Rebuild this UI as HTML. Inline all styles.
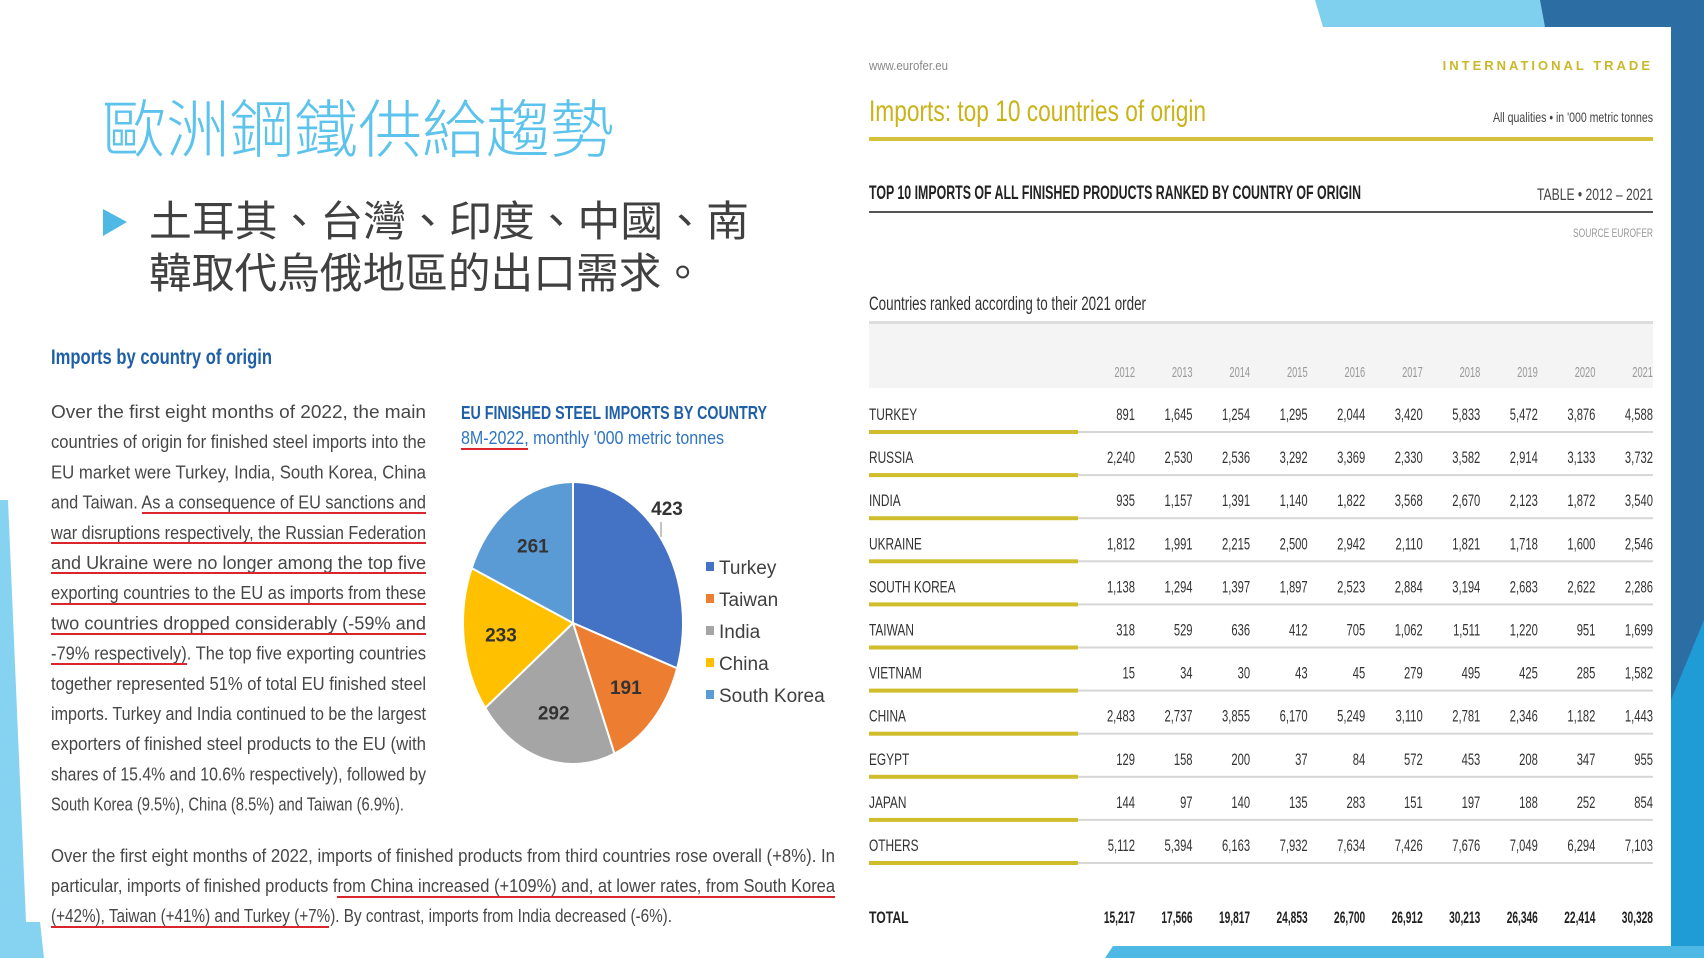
<!DOCTYPE html>
<html><head><meta charset="utf-8">
<style>
html,body{margin:0;padding:0;background:#fff;}
svg{display:block;font-family:"Liberation Sans","Noto Sans CJK TC",sans-serif;}
</style></head>
<body>
<svg id="slide" width="1704" height="958" viewBox="0 0 1704 958" xmlns="http://www.w3.org/2000/svg">
  <!-- decorations -->
  <polygon points="1315,0 1545,0 1545,27 1323,27" fill="#7fd0ef"/>
  <polygon points="1540,0 1704,0 1704,958 1671,958 1671,27 1545,27" fill="#2c6ea3"/>
  <polygon points="1671,700 1704,620 1704,958 1671,958" fill="#1f9bd6"/>
  <polygon points="1113,946 1671,946 1704,946 1704,958 1105,958" fill="#4fb9e6"/>
  <polygon points="0,500 8,500 26,922 40,922 44,958 0,958" fill="#85d3f1"/>

  <!-- left title -->
  <text x="102" y="152" font-size="63" fill="#5cc3ec" font-family="'Noto Sans CJK TC',sans-serif" font-weight="300" textLength="512" lengthAdjust="spacingAndGlyphs">歐洲鋼鐵供給趨勢</text>
  <polygon points="103,209 127,222 103,236" fill="#4fb9e6"/>
  <text x="149" y="236" font-size="42" fill="#404040" font-family="'Noto Sans CJK TC',sans-serif" textLength="600" lengthAdjust="spacingAndGlyphs">土耳其、台灣、印度、中國、南</text>
  <text x="149" y="288" font-size="42" fill="#404040" font-family="'Noto Sans CJK TC',sans-serif" textLength="555" lengthAdjust="spacingAndGlyphs">韓取代烏俄地區的出口需求。</text>

  <text x="51" y="364" font-size="21" font-weight="bold" fill="#1f5fa8" textLength="221" lengthAdjust="spacingAndGlyphs">Imports by country of origin</text>

  <g id="para1" fill="#474747" font-size="18"></g>
  <g id="para2" fill="#474747" font-size="18"></g>
  <g id="underlines" stroke="#d9262b" stroke-width="2"></g>

  <!-- pie -->
  <text x="461" y="419" font-size="18" font-weight="bold" fill="#1f5fa8" textLength="306" lengthAdjust="spacingAndGlyphs">EU FINISHED STEEL IMPORTS BY COUNTRY</text>
  <text x="461" y="444" font-size="18" fill="#2f74c0" textLength="263" lengthAdjust="spacingAndGlyphs">8M-2022, monthly '000 metric tonnes</text>
  <line x1="461" y1="449" x2="528" y2="449" stroke="#d9262b" stroke-width="2"/>
  <g id="pie"></g>
  <g id="legend"></g>

  <!-- table header -->
  <text x="869" y="70" font-size="13" fill="#888" textLength="79" lengthAdjust="spacingAndGlyphs">www.eurofer.eu</text>
  <text x="1653" y="70" text-anchor="end" font-size="13" font-weight="bold" fill="#cbb82a" letter-spacing="3">INTERNATIONAL TRADE</text>
  <text x="869" y="121" font-size="30" fill="#c9b318" textLength="337" lengthAdjust="spacingAndGlyphs">Imports: top 10 countries of origin</text>
  <text x="1653" y="122" text-anchor="end" font-size="14" fill="#444" textLength="160" lengthAdjust="spacingAndGlyphs">All qualities • in '000 metric tonnes</text>
  <rect x="869" y="137" width="784" height="4" fill="#d4c23a"/>
  <text x="869" y="199" font-size="19" font-weight="bold" fill="#222" textLength="492" lengthAdjust="spacingAndGlyphs">TOP 10 IMPORTS OF ALL FINISHED PRODUCTS RANKED BY COUNTRY OF ORIGIN</text>
  <text x="1653" y="200" text-anchor="end" font-size="17" fill="#444" textLength="116" lengthAdjust="spacingAndGlyphs">TABLE • 2012 – 2021</text>
  <rect x="869" y="211" width="784" height="2" fill="#555"/>
  <text x="1653" y="237" text-anchor="end" font-size="12" fill="#999" textLength="80" lengthAdjust="spacingAndGlyphs">SOURCE EUROFER</text>
  <text x="869" y="310" font-size="19" fill="#333" textLength="277" lengthAdjust="spacingAndGlyphs">Countries ranked according to their 2021 order</text>
  <rect x="869" y="322" width="784" height="66" fill="#f4f4f4"/>
  <rect x="869" y="321" width="784" height="3" fill="#ddd"/>
  <g id="table"></g>
</svg>
<script>
const NS = "http://www.w3.org/2000/svg";
// ---- pie data ----
const pieCountries = ["Turkey","Taiwan","India","China","South Korea"];
const pieValues = [423,191,292,233,261];
const pieColors = ["#4472c4","#ed7d31","#a5a5a5","#ffc000","#5b9bd5"];
// ---- table data ----
const tableYears = ["2012","2013","2014","2015","2016","2017","2018","2019","2020","2021"];
const tableCountries = ["TURKEY","RUSSIA","INDIA","UKRAINE","SOUTH KOREA","TAIWAN","VIETNAM","CHINA","EGYPT","JAPAN","OTHERS"];
const rowTurkey = [891,1645,1254,1295,2044,3420,5833,5472,3876,4588];
const rowRussia = [2240,2530,2536,3292,3369,2330,3582,2914,3133,3732];
const rowIndia = [935,1157,1391,1140,1822,3568,2670,2123,1872,3540];
const rowUkraine = [1812,1991,2215,2500,2942,2110,1821,1718,1600,2546];
const rowSouthKorea = [1138,1294,1397,1897,2523,2884,3194,2683,2622,2286];
const rowTaiwan = [318,529,636,412,705,1062,1511,1220,951,1699];
const rowVietnam = [15,34,30,43,45,279,495,425,285,1582];
const rowChina = [2483,2737,3855,6170,5249,3110,2781,2346,1182,1443];
const rowEgypt = [129,158,200,37,84,572,453,208,347,955];
const rowJapan = [144,97,140,135,283,151,197,188,252,854];
const rowOthers = [5112,5394,6163,7932,7634,7426,7676,7049,6294,7103];
const rowTotal = [15217,17566,19817,24853,26700,26912,30213,26346,22414,30328];
const tableRows = [rowTurkey,rowRussia,rowIndia,rowUkraine,rowSouthKorea,rowTaiwan,rowVietnam,rowChina,rowEgypt,rowJapan,rowOthers];

function mk(tag, attrs, parent){const e=document.createElementNS(NS,tag);for(const k in attrs)e.setAttribute(k,attrs[k]);parent.appendChild(e);return e;}
function fmt(v){return v.toLocaleString("en-US");}

// ---- paragraphs ----
const p1Lines = [
 ["Over the first eight months of 2022, the main",1],
 ["countries of origin for finished steel imports into the",1],
 ["EU market were Turkey, India, South Korea, China",1],
 ["and Taiwan. As a consequence of EU sanctions and",1],
 ["war disruptions respectively, the Russian Federation",1],
 ["and Ukraine were no longer among the top five",1],
 ["exporting countries to the EU as imports from these",1],
 ["two countries dropped considerably (-59% and",1],
 ["-79% respectively). The top five exporting countries",1],
 ["together represented 51% of total EU finished steel",1],
 ["imports. Turkey and India continued to be the largest",1],
 ["exporters of finished steel products to the EU (with",1],
 ["shares of 15.4% and 10.6% respectively), followed by",1],
 ["South Korea (9.5%), China (8.5%) and Taiwan (6.9%).",0]
];
const p1 = document.getElementById("para1");
p1Lines.forEach((l,i)=>{
  const t = mk("text",{x:51,y:418+i*30.2,textLength:l[1]?375:353,lengthAdjust:"spacingAndGlyphs"},p1);
  
  
  t.textContent=l[0];
});
const p2Lines = [
 ["Over the first eight months of 2022, imports of finished products from third countries rose overall (+8%). In",784],
 ["particular, imports of finished products from China increased (+109%) and, at lower rates, from South Korea",784],
 ["(+42%), Taiwan (+41%) and Turkey (+7%). By contrast, imports from India decreased (-6%).",621]
];
const p2 = document.getElementById("para2");
p2Lines.forEach((l,i)=>{
  const t = mk("text",{x:51,y:862+i*30,textLength:l[1],lengthAdjust:"spacingAndGlyphs"},p2);
  
  
  t.textContent=l[0];
});
const ul = document.getElementById("underlines");
[[142,426,513],[51,426,543],[51,426,573],[51,426,604],[51,426,634],[51,187,664],[337,835,897],[51,329,927]].forEach(u=>{
  const e = mk("line",{x1:u[0],x2:u[1],y1:u[2],y2:u[2]},ul);
  
  
});

// ---- pie ----
const cx=573, cy=623, rx=110, ry=141;
const pie=document.getElementById("pie");
const total=pieValues.reduce((a,b)=>a+b,0);
let ang=-Math.PI/2;
pieValues.forEach((v,i)=>{
  const a0=ang, a1=ang+v/total*2*Math.PI; ang=a1;
  const x0=cx+rx*Math.cos(a0), y0=cy+ry*Math.sin(a0), x1=cx+rx*Math.cos(a1), y1=cy+ry*Math.sin(a1);
  const large=(a1-a0)>Math.PI?1:0;
  const p=mk("path",{d:`M${cx},${cy} L${x0},${y0} A${rx},${ry} 0 ${large} 1 ${x1},${y1} Z`,fill:pieColors[i],stroke:"#fff","stroke-width":2},pie);
  
  
  const am=(a0+a1)/2;
  let lx=cx+rx*0.66*Math.cos(am), ly=cy+ry*0.66*Math.sin(am);
  if(i===0){lx=667;ly=508;}
  const t=mk("text",{x:lx,y:ly+7,"text-anchor":"middle","font-size":19,"font-weight":"bold",fill:"#333"},pie);
  
  
  t.textContent=v;
  if(i===0){
    const ll=mk("line",{x1:661,y1:522,x2:661,y2:537,stroke:"#888","stroke-width":1},pie);
    
    
  }
});
const lg=document.getElementById("legend");
pieCountries.forEach((c,i)=>{
  const y=567+i*32;
  const r=mk("rect",{x:706,y:y-5,width:8,height:9,fill:pieColors[i]},lg);
  
  
  const t=mk("text",{x:719,y:y+7,"font-size":19,fill:"#404040"},lg);
  
  
  t.textContent=c;
});

// ---- table ----
const tb=document.getElementById("table");
function colX(i){return 1135+i*57.55;}
function rowY(i){return 414+i*43.1;}
function cond(txt,x,y,size,anchor,color,weight,sx){
  const g=mk("g",{transform:`translate(${x},${y}) scale(${sx},1)`},tb);
  const t=mk("text",{x:0,y:0,"font-size":size,"text-anchor":anchor,fill:color,"font-weight":weight||"normal"},g);
  t.textContent=txt; return t;
}
tableYears.forEach((yr,i)=>{
  const t=cond(yr,colX(i),377,15,"end","#999","normal",0.62);
  
  
});
tableCountries.forEach((c,r)=>{
  const y=rowY(r);
  const t=cond(c,869,y+6,17,"start","#333","normal",0.7);
  
  
  tableRows[r].forEach((v,i)=>{
    const n=cond(fmt(v),colX(i),y+6,17,"end","#333","normal",0.66);
    
    
  });
  const g=mk("rect",{x:869,y:y+17,width:784,height:2,fill:"#d6d6d6"},tb);
  
  
  const yl=mk("rect",{x:869,y:y+16,width:209,height:4,fill:"#cfbd2c"},tb);
  
  
});
const tt=cond("TOTAL",869,923,17,"start","#222","bold",0.72);


rowTotal.forEach((v,i)=>{
  const n=cond(fmt(v),colX(i),923,17,"end","#222","bold",0.6);
  
  
});
</script>
</body></html>
